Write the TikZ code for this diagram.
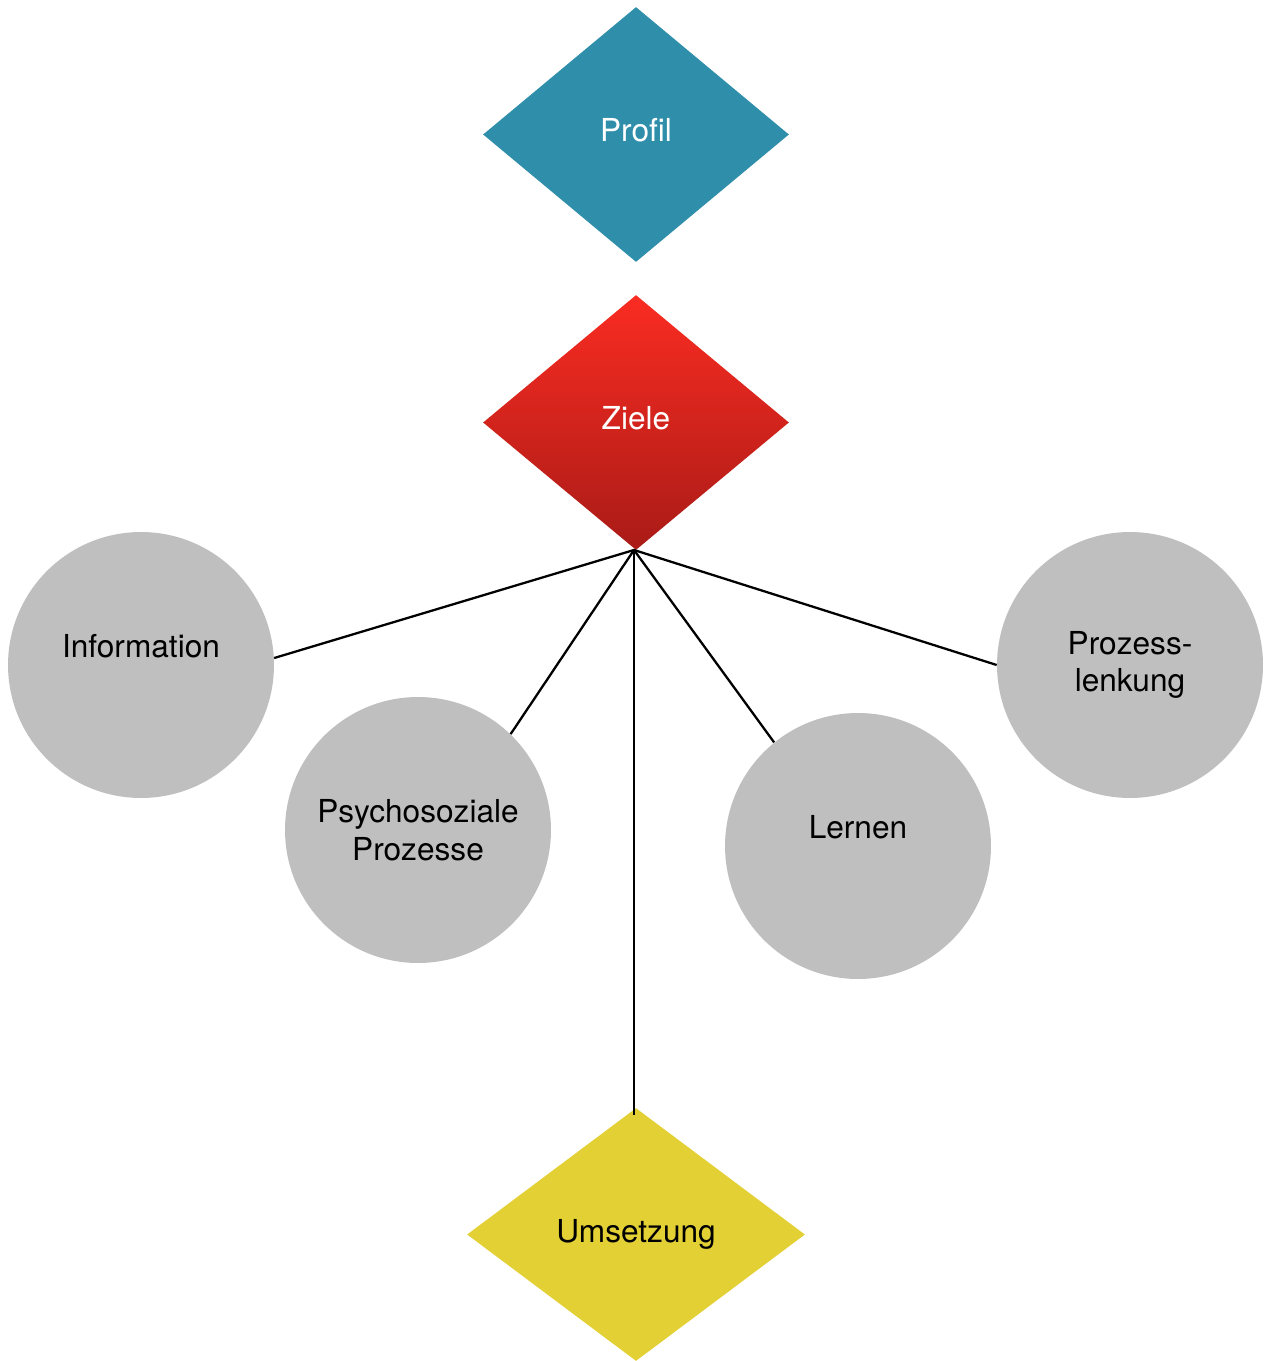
\documentclass[tikz,border=0pt]{standalone}
\usepackage{fontspec}
\setmainfont{TeX Gyre Heros}
\usetikzlibrary{shapes.geometric}
\definecolor{profilblue}{HTML}{2F8EAA}
\definecolor{zieletop}{HTML}{FA2C22}
\definecolor{zielebot}{HTML}{AA1B17}
\definecolor{umsyellow}{HTML}{E2D035}
\definecolor{circgray}{HTML}{BFBFBF}
\tikzset{
  dia/.style={diamond, inner sep=0pt, draw=none, font=\fontsize{18}{21}\selectfont, align=center},
  circ/.style={circle, fill=circgray, draw=none, minimum size=5.32cm, inner sep=0pt,
    font=\fontsize{18}{21.5}\selectfont, align=center, text=black},
  conn/.style={draw=black, line width=1.3pt}
}
\begin{document}
\begin{tikzpicture}[x=0.02cm, y=-0.02cm]
\useasboundingbox (0,0) rectangle (1265,1361);
\fill[white] (0,0) rectangle (1265,1361);
% diamonds
\node[dia, fill=profilblue, text=white, minimum width=6.12cm, minimum height=5.1cm] (profil) at (636,134.5) {\raisebox{0.2cm}{Profil}};
\node[dia, top color=zieletop, bottom color=zielebot, text=white, minimum width=6.12cm, minimum height=5.1cm] (ziele) at (636,422.5) {\raisebox{0.2cm}{Ziele}};
\node[dia, fill=umsyellow, text=black, minimum width=6.76cm, minimum height=5.06cm] (ums) at (636,1234.5) {Umsetzung};
% circles
\node[circ] (info) at (141,665) {Information\\\phantom{X}};
\node[circ] (psy) at (418,830) {Psychosoziale\\Prozesse};
\node[circ] (lern) at (858,846) {Lernen\\\phantom{X}};
\node[circ] (proz) at (1130,665) {Prozess-\\lenkung};
% connectors
\coordinate (hub) at (634,550);
\coordinate (umstop) at (632,1115);
\draw[conn] (hub) -- (info.3);
\draw[conn] (hub) -- (psy.46);
\draw[conn] (hub) -- (lern.129);
\draw[conn] (hub) -- (proz.180);
\draw[conn] (hub) -- (hub |- umstop);
\end{tikzpicture}
\end{document}
